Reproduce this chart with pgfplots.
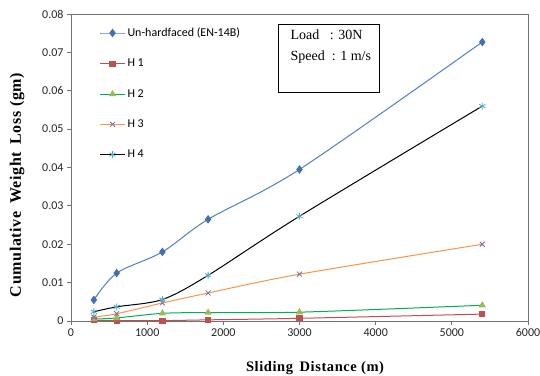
\documentclass[border=0pt]{standalone}
\usepackage{pgfplots}
\pgfplotsset{compat=1.18}
\usepackage{fontspec}
\setmainfont{Liberation Serif}
\newfontfamily\calib{Carlito}
\newfontfamily\lblfont[LetterSpace=4]{Liberation Serif}
\definecolor{cA}{HTML}{4F81BD}
\definecolor{cAm}{HTML}{3F6FB5}
\definecolor{cB}{HTML}{C0504D}
\definecolor{cC}{HTML}{00B050}
\definecolor{cCm}{HTML}{9BBB59}
\definecolor{cD}{HTML}{F79646}
\definecolor{cDm}{HTML}{8064A2}
\definecolor{cEm}{HTML}{4BACC6}
\begin{document}
\begin{tikzpicture}[x=1pt,y=1pt]
\useasboundingbox (0,0) rectangle (540,375);
\begin{axis}[
  at={(71pt,54pt)}, anchor=south west,
  scale only axis, width=457pt, height=307pt,
  xmin=0, xmax=6000, ymin=0, ymax=0.08,
  scaled y ticks=false, scaled x ticks=false,
  xtick={0,1000,...,6000}, ytick={0,0.01,...,0.08},
  yticklabels={0,0.01,0.02,0.03,0.04,0.05,0.06,0.07,0.08},
  xticklabels={0,1000,2000,3000,4000,5000,6000},
  xtick pos=bottom, ytick pos=left, tick align=outside,
  major tick length=4pt,
  axis line style={draw=black!55, line width=0.8pt},
  tick style={black!55, line width=0.8pt},
  ticklabel style={font=\calib\fontsize{12}{14}\selectfont, text=black!85},
  xlabel={\lblfont\fontsize{14.5}{16}\selectfont\bfseries Sliding\, Distance (m)},
  ylabel={\lblfont\fontsize{16}{18}\selectfont\bfseries Cumulative\, Weight\, Loss (gm)},
  xlabel style={at={(axis description cs:0.534,-0.153)}, anchor=center},
  ylabel style={at={(axis description cs:-0.118,0.443)}, anchor=center},
  legend style={draw=none, fill=none, at={(rel axis cs:0.062,0.962)}, anchor=north west,
    font=\calib\fontsize{12}{14}\selectfont, row sep=17pt, inner sep=0pt,
    /tikz/every even column/.append style={column sep=2pt}},
  legend cell align=left,
  legend image code/.code={\draw[mark repeat=2,mark phase=2] plot coordinates {(0pt,0pt) (12.5pt,0pt) (25pt,0pt)};},
  every axis plot/.append style={line width=1pt, smooth, tension=0.5},
]
\addplot[cA, mark=diamond*, mark size=3.5pt, mark options={fill=cAm, draw=cAm}] coordinates {
(300,0.0055) (600,0.0125) (1200,0.0180) (1800,0.0265) (3000,0.0395) (5400,0.0727)};
\addlegendentry{Un-hardfaced (EN-14B)}
\addplot[cB, mark=square*, mark size=2.6pt, mark options={fill=cB, draw=cB}] coordinates {
(300,0.0002) (600,0.0001) (1200,0.0001) (1800,0.0003) (3000,0.0007) (5400,0.0018)};
\addlegendentry{H 1}
\addplot[cC, mark=triangle*, mark size=3.2pt, mark options={fill=cCm, draw=cCm}] coordinates {
(300,0.0005) (600,0.0008) (1200,0.0020) (1800,0.0022) (3000,0.0023) (5400,0.0041)};
\addlegendentry{H 2}
\addplot[cD, mark=x, mark size=3.5pt, mark options={draw=cDm, line width=0.8pt}] coordinates {
(300,0.0010) (600,0.0019) (1200,0.0047) (1800,0.0073) (3000,0.0122) (5400,0.0200)};
\addlegendentry{H 3}
\addplot[black, mark=asterisk, mark size=3.5pt, mark options={draw=cEm, line width=0.8pt}] coordinates {
(300,0.0024) (600,0.0037) (1200,0.0056) (1800,0.0119) (3000,0.0273) (5400,0.0560)};
\addlegendentry{H 4}
\draw[black, line width=0.8pt] (axis cs:2720,0.0773) rectangle (axis cs:4043,0.0596);
\node[anchor=north west, align=left, font=\fontsize{14}{21}\selectfont, inner sep=0pt]
  at (axis cs:2880,0.0760) {Load\ \ \ : 30N\\Speed\ \ : 1 m/s};
\end{axis}
\end{tikzpicture}
\end{document}
